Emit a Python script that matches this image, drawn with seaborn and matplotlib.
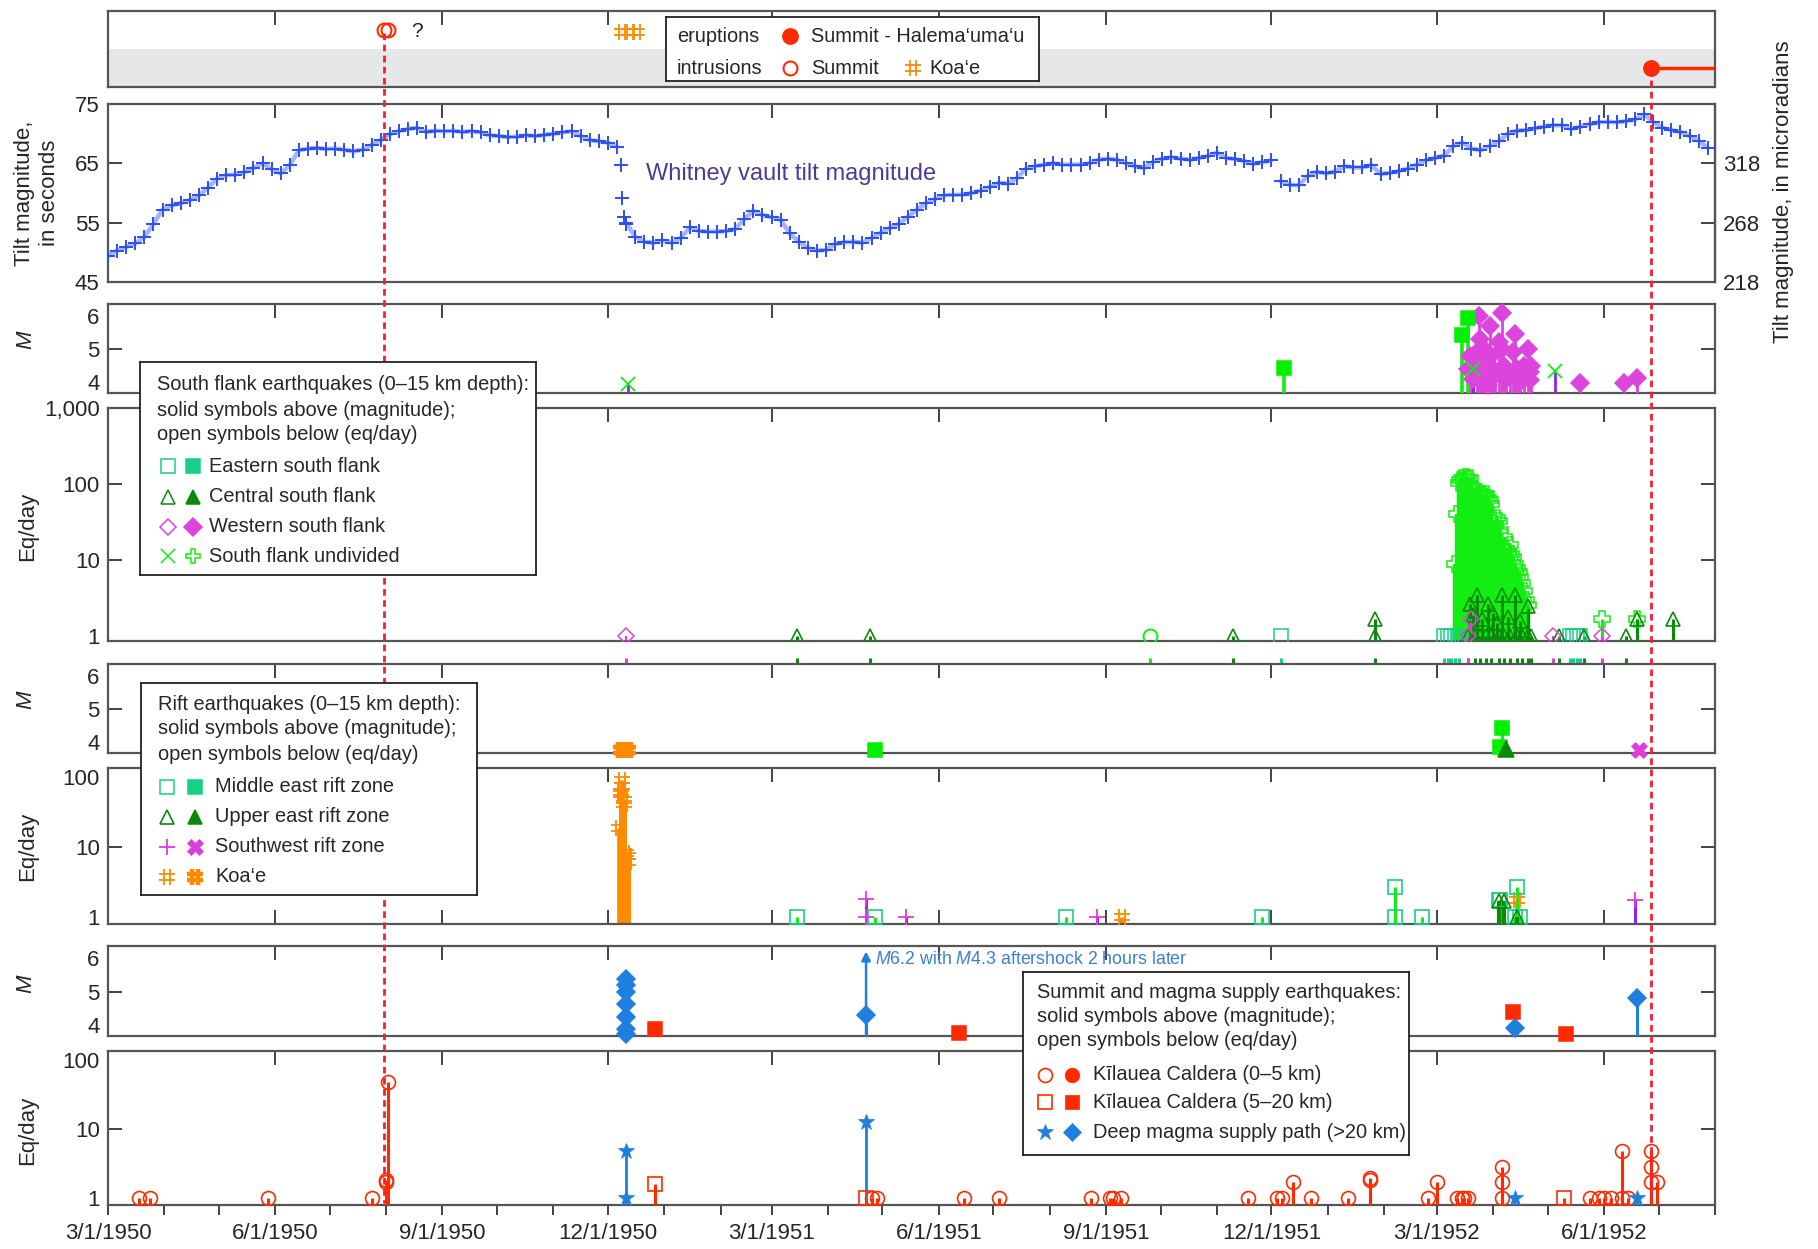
import numpy as np
import pandas as pd
import matplotlib
matplotlib.use("Agg")
import matplotlib.pyplot as plt
import matplotlib.dates as mdates
from matplotlib.path import Path
from matplotlib.lines import Line2D
from matplotlib.transforms import blended_transform_factory
import seaborn as sns

sns.set_theme(style="white")
plt.rcParams["font.family"] = ["Liberation Sans", "DejaVu Sans"]
plt.rcParams["mathtext.fontset"] = "custom"
plt.rcParams["mathtext.rm"] = "Liberation Sans"
plt.rcParams["mathtext.it"] = "Liberation Sans:italic"

# ---------------------------------------------------------------- data
x_start, x_end = "1950-03-01", "1952-08-01"
quarter_ticks = pd.date_range("1950-03-01", "1952-06-01", freq="3MS")
month_ticks = pd.date_range("1950-03-01", "1952-08-01", freq="MS")
quarter_labels = [f"{d.month}/{d.day}/{d.year}" for d in quarter_ticks]

eruption_date = "1952-06-27"
summit_intrusions = ["1950-07-31", "1950-08-02"]
koae_intrusions = ["1950-12-09", "1950-12-13", "1950-12-17"]
intrusion_line_date = "1950-07-31"

# Whitney vault tilt magnitude (seconds of arc), one reading every 5 days
tilt_start = "1950-03-01"
tilt_seconds = [
    49.4, 50.3, 50.9, 51.5, 52.6, 54.8, 57.2, 57.9, 58.3, 58.8,
    59.6, 60.9, 62.4, 63.0, 63.1, 63.5, 64.2, 65.0, 64.0, 63.3,
    64.7, 67.2, 67.5, 67.6, 67.4, 67.5, 67.3, 67.0, 67.3, 68.1,
    68.9, 69.9, 70.4, 70.8, 71.0, 70.3, 70.5, 70.4, 70.5, 70.3,
    70.4, 70.2, 69.7, 69.6, 69.4, 69.5, 69.7, 69.6, 69.8, 70.0,
    70.2, 70.4, 69.6, 68.9, 68.7, 68.5, 67.8, 55.0, 52.6, 51.8,
    51.6, 52.0, 51.6, 52.4, 54.2, 53.6, 53.5, 53.5, 53.6, 53.9,
    55.6, 57.0, 56.3, 55.9, 55.5, 53.2, 51.8, 50.7, 50.3, 50.4,
    51.4, 51.7, 51.8, 51.6, 52.4, 53.3, 54.1, 54.8, 56.0, 57.2,
    58.3, 59.0, 59.6, 59.7, 59.7, 60.0, 60.4, 61.0, 61.7, 61.6,
    62.5, 64.1, 64.5, 64.8, 65.0, 64.8, 64.8, 64.8, 65.0, 65.6,
    65.8, 65.6, 65.0, 64.5, 64.2, 65.3, 65.8, 66.0, 65.8, 65.6,
    65.9, 66.2, 66.8, 65.9, 65.7, 65.4, 64.9, 65.2, 65.5, 62.0,
    61.4, 61.3, 62.9, 63.6, 63.3, 63.6, 64.5, 64.3, 64.3, 64.7,
    63.2, 63.4, 63.7, 64.1, 64.8, 65.5, 65.9, 66.3, 67.9, 68.5,
    67.5, 67.2, 67.9, 68.7, 70.0, 70.5, 70.6, 70.9, 71.2, 71.4,
    71.4, 70.8, 71.2, 71.6, 71.9, 72.0, 71.9, 72.1, 72.4, 73.3,
    72.0, 71.0, 70.6, 70.3, 69.6, 68.8, 67.6,
]
# readings taken during the rapid tilt drop of December 1950
tilt_drop = [("1950-12-08", 64.8), ("1950-12-09", 59.2), ("1950-12-10", 56.0), ("1950-12-11", 54.7)]

# South flank magnitudes
sf_east_M = [("1951-12-08", 4.43), ("1952-03-15", 5.43), ("1952-03-18", 5.93)]
sf_und_M = [("1950-12-12", 3.95), ("1952-03-21", 4.4), ("1952-05-05", 4.35)]
sf_west_M = [
    ("1952-03-18", 4.4), ("1952-03-19", 4.8), ("1952-03-20", 4.4), ("1952-03-21", 4.1),
    ("1952-03-23", 4.9), ("1952-03-24", 6.0), ("1952-03-25", 5.3), ("1952-03-26", 4.6),
    ("1952-03-27", 5.0), ("1952-03-28", 4.2), ("1952-03-29", 3.9), ("1952-03-30", 5.7),
    ("1952-03-31", 4.8), ("1952-04-01", 4.4), ("1952-04-02", 4.2), ("1952-04-04", 5.2),
    ("1952-04-06", 6.1), ("1952-04-06", 5.0), ("1952-04-07", 4.5), ("1952-04-08", 4.1),
    ("1952-04-10", 4.2), ("1952-04-12", 4.9), ("1952-04-13", 5.45), ("1952-04-14", 4.4),
    ("1952-04-16", 4.0), ("1952-04-18", 4.5), ("1952-04-20", 5.0), ("1952-04-21", 4.3),
    ("1952-04-21", 4.05), ("1952-04-22", 4.5), ("1952-05-19", 3.98), ("1952-06-12", 3.98),
    ("1952-06-19", 4.12),
]

# South flank earthquakes per day
sf_swarm_dates = pd.date_range("1952-03-11", "1952-04-20")
sf_swarm_eq = [9, 40, 102, 115, 120, 110, 125, 118, 120, 95,
               85, 83, 78, 80, 72, 75, 70, 74, 65, 62,
               55, 34, 30, 36, 33, 25, 15, 20, 14, 13,
               16, 12, 11, 9, 8, 7, 6, 5, 4, 3, 2.6]
sf_und_eq = [("1952-05-31", 1.7), ("1952-06-19", 1.7)]
sf_cent_eq = [
    ("1951-03-15", 1), ("1951-04-24", 1), ("1951-11-10", 1), ("1952-01-27", 1), ("1952-01-27", 1.7),
    ("1952-03-18", 1), ("1952-03-19", 2.7), ("1952-03-21", 1.9), ("1952-03-22", 1), ("1952-03-23", 3.5),
    ("1952-03-25", 1), ("1952-03-26", 1.7), ("1952-03-28", 1), ("1952-03-29", 2.7), ("1952-03-31", 1),
    ("1952-04-01", 2.0), ("1952-04-03", 1.5), ("1952-04-04", 1), ("1952-04-06", 3.5), ("1952-04-07", 1),
    ("1952-04-09", 1.8), ("1952-04-10", 1), ("1952-04-13", 3.5), ("1952-04-14", 1), ("1952-04-16", 1.6),
    ("1952-04-17", 1), ("1952-04-20", 2.5), ("1952-04-20", 1), ("1952-04-22", 1), ("1952-05-07", 1),
    ("1952-05-21", 1), ("1952-06-13", 1), ("1952-06-19", 1.7), ("1952-07-09", 1.7),
]
sf_east_eq = [("1951-12-06", 1), ("1952-03-05", 1), ("1952-03-07", 1), ("1952-03-09", 1),
              ("1952-03-11", 1), ("1952-03-13", 1), ("1952-05-13", 1), ("1952-05-15", 1),
              ("1952-05-17", 1), ("1952-05-19", 1)]
sf_west_eq = [("1950-12-11", 1), ("1952-03-18", 1), ("1952-03-20", 1.7), ("1952-05-04", 1),
              ("1952-05-31", 1)]
sf_circle_eq = [("1951-09-25", 1)]

# Rift magnitudes
rf_koae_M = [("1950-12-08", 3.75), ("1950-12-09", 3.75), ("1950-12-10", 3.75),
             ("1950-12-11", 3.75), ("1950-12-12", 3.75)]
rf_mer_M = [("1951-04-27", 3.75), ("1952-04-05", 3.84), ("1952-04-06", 4.42)]
rf_uer_M = [("1952-04-08", 3.8)]
rf_sw_M = [("1952-06-20", 3.75)]

# Rift earthquakes per day
rf_koae_eq = [("1950-12-07", 19), ("1950-12-08", 62), ("1950-12-08", 58), ("1950-12-09", 92),
              ("1950-12-09", 75), ("1950-12-10", 47), ("1950-12-10", 41), ("1950-12-11", 8.2),
              ("1950-12-12", 6.2), ("1950-12-12", 7.5), ("1951-09-10", 1), ("1952-04-14", 1.75)]
rf_mer_eq = [("1951-03-15", 1), ("1951-04-27", 1), ("1951-08-10", 1), ("1951-11-26", 1),
             ("1952-02-07", 1), ("1952-02-07", 2.7), ("1952-02-22", 1), ("1952-04-04", 1.75),
             ("1952-04-05", 1.75), ("1952-04-13", 1), ("1952-04-14", 2.7), ("1952-04-16", 1)]
rf_uer_eq = [("1952-04-04", 1.7), ("1952-04-07", 1.7), ("1952-04-14", 1)]
rf_sw_eq = [("1951-04-22", 1.8), ("1951-04-22", 1), ("1951-05-14", 1), ("1951-08-27", 1),
            ("1952-06-18", 1.75)]

# Summit and magma supply magnitudes
sm_deep_M = [("1950-12-11", 5.36), ("1950-12-11", 5.18), ("1950-12-11", 4.98), ("1950-12-11", 4.63),
             ("1950-12-11", 4.24), ("1950-12-11", 3.87), ("1950-12-11", 3.72), ("1951-04-22", 4.3),
             ("1952-04-13", 3.9), ("1952-06-19", 4.8)]
sm_cal_deep_M = [("1950-12-27", 3.89), ("1951-06-12", 3.77), ("1952-04-12", 4.4), ("1952-05-11", 3.72)]
big_quake = ("1951-04-22", 6.2, 4.3)

# Summit and magma supply earthquakes per day
sm_cal_eq = [
    ("1950-03-18", 1), ("1950-03-24", 1), ("1950-05-28", 1), ("1950-07-24", 1), ("1950-08-01", 1.7),
    ("1950-08-01", 1.8), ("1950-08-02", 48), ("1951-04-25", 1), ("1951-04-28", 1), ("1951-06-15", 1),
    ("1951-07-04", 1), ("1951-08-24", 1), ("1951-09-03", 1), ("1951-09-05", 1), ("1951-09-09", 1),
    ("1951-11-18", 1), ("1951-12-04", 1), ("1951-12-07", 1), ("1951-12-13", 1.7), ("1951-12-23", 1),
    ("1952-01-12", 1), ("1952-01-24", 1.8), ("1952-01-24", 1.9), ("1952-02-25", 1), ("1952-03-01", 1.7),
    ("1952-03-12", 1), ("1952-03-15", 1), ("1952-03-16", 1), ("1952-03-18", 1), ("1952-04-06", 1),
    ("1952-04-06", 1.7), ("1952-04-06", 2.8), ("1952-05-24", 1), ("1952-05-29", 1), ("1952-06-01", 1),
    ("1952-06-05", 1), ("1952-06-11", 4.8), ("1952-06-11", 1), ("1952-06-14", 1), ("1952-06-27", 4.7),
    ("1952-06-27", 2.8), ("1952-06-27", 1.7), ("1952-06-30", 1.7),
]
sm_cal_deep_eq = [("1950-12-27", 1.6), ("1951-04-22", 1), ("1952-05-10", 1)]
sm_deep_eq = [("1950-12-11", 4.8), ("1950-12-11", 1), ("1951-04-22", 12.5), ("1952-04-13", 1),
              ("1952-06-19", 1)]

# ---------------------------------------------------------------- style
C_EAST = "#16d184"
C_CENT = "#0a8a0a"
C_WEST = "#dd44dd"
C_LIME = "#12ee12"
C_SW = "#dd3ddd"
C_SWSTEM = "#8b22f0"
C_KOAE = "#ff8a00"
C_CAL = "#ff2a00"
C_DEEP = "#1f7fdf"
C_TILT = "#2d4ff2"
C_DASH = "#ee2233"
C_GRAY = "#e6e7e8"
C_SPINE = "#555555"
FS_TICK = 16
FS_LAB = 16
FS_LEG = 14.4

HASH = Path([(-0.33, -1), (-0.33, 1), (0.33, -1), (0.33, 1),
             (-1, -0.33), (1, -0.33), (-1, 0.33), (1, 0.33)],
            [Path.MOVETO, Path.LINETO] * 4)

W, H = 1818, 1249
fig = plt.figure(figsize=(W / 100, H / 100), dpi=100)


def rect(x0, y0, x1, y1):
    return [x0 / W, 1 - y1 / H, (x1 - x0) / W, (y1 - y0) / H]


X0, X1 = 108, 1715
rows = {"erupt": (11, 87), "tilt": (104, 282), "sfM": (304, 393), "sfN": (408, 641),
        "rfM": (664, 753), "rfN": (768, 924), "smM": (946, 1036), "smN": (1051, 1205)}
axes = {k: fig.add_axes(rect(X0, a, X1, b)) for k, (a, b) in rows.items()}
limits = {"erupt": (0, 2), "tilt": (45, 75), "sfM": (3.67, 6.36), "sfN": (0.87, 1000),
          "rfM": (3.67, 6.36), "rfN": (0.8, 135), "smM": (3.67, 6.36), "smN": (0.78, 134)}


def frame(ax, key, log=False):
    if log:
        ax.set_yscale("log")
    ax.set_xlim(pd.Timestamp(x_start), pd.Timestamp(x_end))
    ax.set_ylim(*limits[key])
    ax.set_facecolor("white")
    ax.grid(False)
    for sp in ax.spines.values():
        sp.set_visible(True)
        sp.set_color(C_SPINE)
        sp.set_linewidth(1.6)
    ax.set_xticks(quarter_ticks)
    ax.tick_params(axis="x", which="major", direction="in", length=10, width=1.2,
                   color="#222222", top=True, bottom=False, labelbottom=False, labeltop=False)


def yaxis_ticks(ax, marked, unmarked, fmt=lambda v: f"{v:g}"):
    ax.set_yticks(marked, [fmt(v) for v in marked])
    ax.set_yticks(unmarked, [fmt(v) for v in unmarked], minor=True)
    ax.tick_params(axis="y", which="major", direction="in", length=10, width=1.2,
                   color="#222222", left=True, right=True, labelsize=FS_TICK, pad=6)
    ax.tick_params(axis="y", which="minor", length=0, left=True, right=False,
                   labelsize=FS_TICK, pad=6)


def dts(pairs):
    return pd.to_datetime([p[0] for p in pairs])


def vals(pairs):
    return [p[1] for p in pairs]


def marks(ax, dates, values, marker, color, ms, filled=False, mew=1.1, clip=True, z=4):
    ax.plot(pd.to_datetime(dates), values, ls="none", marker=marker, ms=ms,
            mfc=color if filled else "none", mec=color, mew=mew, clip_on=clip, zorder=z)


def stems(ax, key, dates, values, color, lw=2.0, z=3):
    ax.vlines(pd.to_datetime(dates), limits[key][0], values, colors=color, lw=lw, zorder=z)


def below_ticks(ax, dates, color, y0=-0.072, y1=-0.095):
    ax.vlines(pd.to_datetime(dates), y1, y0, colors=color, lw=2.2,
              transform=ax.get_xaxis_transform(), clip_on=False)


for k, ax in axes.items():
    frame(ax, k, log=k in ("sfN", "rfN", "smN"))

# ---------------------------------------------------------------- eruptions / intrusions
ax = axes["erupt"]
ax.set_yticks([])
ax.axhspan(0, 1, color=C_GRAY, zorder=0, lw=0)
ax.hlines(0.5, pd.Timestamp(eruption_date), pd.Timestamp(x_end), color=C_CAL, lw=2.5, zorder=3)
marks(ax, [eruption_date], [0.5], "o", C_CAL, 11, filled=True, z=5)
marks(ax, summit_intrusions, [1.5] * len(summit_intrusions), "o", C_CAL, 10, mew=1.5)
marks(ax, koae_intrusions, [1.45] * len(koae_intrusions), HASH, C_KOAE, 11, mew=1.3)
ax.text(pd.Timestamp("1950-08-18"), 1.47, "?", fontsize=15, va="center", ha="center")

# ---------------------------------------------------------------- tilt
ax = axes["tilt"]
tilt_dates = pd.date_range(tilt_start, periods=len(tilt_seconds), freq="5D")
tilt = pd.DataFrame({"date": tilt_dates, "sec": tilt_seconds})
# light band behind the readings, broken where the tilt steps abruptly
tilt["run"] = (tilt["sec"].diff().abs() > 3).cumsum()
for _, seg in tilt.groupby("run"):
    sns.lineplot(data=seg, x="date", y="sec", ax=ax, color="#a3b4f8", lw=3.2, zorder=2)
sns.scatterplot(data=tilt, x="date", y="sec", ax=ax, marker="+", s=90, color=C_TILT,
                linewidth=1.4, zorder=3)
sns.scatterplot(x=dts(tilt_drop), y=vals(tilt_drop), ax=ax, marker="+", s=90, color=C_TILT,
                linewidth=1.4, zorder=3)
ax.set_xlabel("")
ax.set_ylabel("")
yaxis_ticks(ax, [55, 65], [45, 75])
ax.tick_params(axis="y", which="major", right=False)
rax = ax.secondary_yaxis("right", functions=(lambda s: 218 + 5 * (s - 45),
                                             lambda u: 45 + (u - 218) / 5))
rax.set_yticks([268, 318], ["268", "318"])
rax.set_yticks([218], ["218"], minor=True)
rax.tick_params(which="major", direction="in", length=10, width=1.2, color="#222222",
                labelsize=FS_TICK, pad=6)
rax.tick_params(which="minor", length=0, labelsize=FS_TICK, pad=6)
rax.spines["right"].set_color(C_SPINE)
rax.spines["right"].set_linewidth(1.6)
ax.text(pd.Timestamp("1950-12-22"), 63.2, "Whitney vault tilt magnitude", fontsize=17,
        color="#4f3b96", va="center", ha="left")

# ---------------------------------------------------------------- south flank magnitude
ax = axes["sfM"]
yaxis_ticks(ax, [5], [4, 6])
stems(ax, "sfM", dts(sf_west_M), vals(sf_west_M), C_WEST, lw=2.0)
stems(ax, "sfM", dts(sf_east_M), vals(sf_east_M), C_LIME, lw=2.6)
stems(ax, "sfM", dts(sf_und_M), vals(sf_und_M), C_SWSTEM, lw=2.0)
marks(ax, dts(sf_west_M), vals(sf_west_M), "D", C_WEST, 9, filled=True, clip=False)
marks(ax, dts(sf_east_M), vals(sf_east_M), "s", "#00f000", 10.5, filled=True, clip=False)
marks(ax, dts(sf_und_M), vals(sf_und_M), "x", C_LIME, 10, mew=1.3, clip=False)

# ---------------------------------------------------------------- south flank eq/day
ax = axes["sfN"]
yaxis_ticks(ax, [10, 100], [1, 1000], lambda v: f"{v:,.0f}")
stems(ax, "sfN", sf_swarm_dates, sf_swarm_eq, C_LIME, lw=3.2, z=2)
stems(ax, "sfN", dts(sf_und_eq), vals(sf_und_eq), C_LIME, lw=2.2, z=2)
stems(ax, "sfN", dts(sf_cent_eq), vals(sf_cent_eq), C_CENT, lw=2.2)
stems(ax, "sfN", dts(sf_west_eq), vals(sf_west_eq), C_WEST, lw=1.6)
marks(ax, sf_swarm_dates, sf_swarm_eq, "P", C_LIME, 11, mew=1.1)
marks(ax, dts(sf_und_eq), vals(sf_und_eq), "P", C_LIME, 11, mew=1.1)
marks(ax, dts(sf_east_eq), vals(sf_east_eq), "s", C_EAST, 10, mew=1.1)
marks(ax, dts(sf_cent_eq), vals(sf_cent_eq), "^", C_CENT, 10.5, mew=1.2)
marks(ax, dts(sf_west_eq), vals(sf_west_eq), "D", C_WEST, 8, mew=1.1)
marks(ax, dts(sf_circle_eq), vals(sf_circle_eq), "o", C_LIME, 10, mew=1.4)
for pairs, col in [(sf_east_eq, C_EAST), (sf_cent_eq, C_CENT), (sf_west_eq, C_WEST),
                   (sf_circle_eq, C_LIME)]:
    ones = [p[0] for p in pairs if p[1] == 1]
    below_ticks(ax, ones, col)

# ---------------------------------------------------------------- rift magnitude
ax = axes["rfM"]
yaxis_ticks(ax, [5], [4, 6])
stems(ax, "rfM", dts(rf_mer_M), vals(rf_mer_M), C_LIME, lw=2.2)
marks(ax, dts(rf_koae_M), vals(rf_koae_M), HASH, C_KOAE, 11, mew=3.2, clip=False)
marks(ax, dts(rf_mer_M), vals(rf_mer_M), "s", "#00f000", 10.5, filled=True, clip=False)
marks(ax, dts(rf_uer_M), vals(rf_uer_M), "^", C_CENT, 11, filled=True, clip=False)
marks(ax, dts(rf_sw_M), vals(rf_sw_M), "X", C_SW, 11, filled=True, mew=0.5, clip=False)

# ---------------------------------------------------------------- rift eq/day
ax = axes["rfN"]
yaxis_ticks(ax, [10], [1, 100])
stems(ax, "rfN", dts(rf_koae_eq), vals(rf_koae_eq), C_KOAE, lw=3.4, z=2)
stems(ax, "rfN", dts(rf_mer_eq), vals(rf_mer_eq), C_LIME, lw=2.2)
stems(ax, "rfN", dts(rf_uer_eq), vals(rf_uer_eq), C_CENT, lw=3)
stems(ax, "rfN", dts(rf_sw_eq), vals(rf_sw_eq), C_SWSTEM, lw=2.2)
marks(ax, dts(rf_koae_eq), vals(rf_koae_eq), HASH, C_KOAE, 11, mew=1.3)
marks(ax, dts(rf_mer_eq), vals(rf_mer_eq), "s", C_EAST, 10, mew=1.2)
marks(ax, dts(rf_uer_eq), vals(rf_uer_eq), "^", C_CENT, 10.5, mew=1.2)
marks(ax, dts(rf_sw_eq), vals(rf_sw_eq), "+", C_SW, 12, mew=1.3)
ax.tick_params(axis="x", which="major", bottom=True)

# ---------------------------------------------------------------- summit magnitude
ax = axes["smM"]
yaxis_ticks(ax, [5], [4, 6])
stems(ax, "smM", dts(sm_deep_M), vals(sm_deep_M), C_DEEP, lw=2.2)
marks(ax, dts(sm_deep_M), vals(sm_deep_M), "D", C_DEEP, 9, filled=True, clip=False)
marks(ax, dts(sm_cal_deep_M), vals(sm_cal_deep_M), "s", C_CAL, 10.5, filled=True, clip=False)
bq = mdates.date2num(pd.Timestamp(big_quake[0]))
ax.annotate("", xy=(bq, big_quake[1]), xytext=(bq, limits["smM"][0]),
            arrowprops=dict(arrowstyle="-|>", color=C_DEEP, lw=1.8, mutation_scale=13,
                            shrinkA=0, shrinkB=0))
ax.text(pd.Timestamp("1951-04-27"), 5.96,
        r"$\mathit{M}$6.2 with $\mathit{M}$4.3 aftershock 2 hours later",
        fontsize=12.8, color="#3a7fd0", va="center", ha="left")

# ---------------------------------------------------------------- summit eq/day
ax = axes["smN"]
yaxis_ticks(ax, [10], [1, 100])
stems(ax, "smN", dts(sm_cal_eq), vals(sm_cal_eq), C_CAL, lw=2.2)
stems(ax, "smN", dts(sm_cal_deep_eq), vals(sm_cal_deep_eq), C_CAL, lw=2.2)
stems(ax, "smN", dts(sm_deep_eq), vals(sm_deep_eq), C_DEEP, lw=2.0)
marks(ax, dts(sm_cal_eq), vals(sm_cal_eq), "o", C_CAL, 10, mew=1.2)
marks(ax, dts(sm_cal_deep_eq), vals(sm_cal_deep_eq), "s", C_CAL, 10.5, mew=1.2)
marks(ax, dts(sm_deep_eq), vals(sm_deep_eq), "*", C_DEEP, 12, filled=True, mew=0.5)
ax.set_xticks(quarter_ticks, quarter_labels)
ax.set_xticks(month_ticks, minor=True)
ax.tick_params(axis="x", which="both", direction="out", length=7, width=1.2, color="#222222",
               top=False, bottom=True, labelbottom=True, labelsize=FS_TICK, pad=6)
ax.vlines(quarter_ticks, 0.91, 1.0, colors="#222222", lw=1.2, transform=ax.get_xaxis_transform())

for k, ax in axes.items():
    ax.set_xlim(pd.Timestamp(x_start), pd.Timestamp(x_end))
    ax.set_ylim(*limits[k])

# ---------------------------------------------------------------- axis titles
fig.text(37 / W, 1 - 193 / H, "Tilt magnitude,\nin seconds", rotation=90, ha="center",
         va="center", fontsize=FS_LAB, linespacing=1.2)
for yc in (340, 700, 984):
    fig.text(26 / W, 1 - yc / H, "M", rotation=90, ha="center", va="center",
             fontsize=FS_LAB, fontstyle="italic")
for yc in (526, 846, 1130):
    fig.text(28 / W, 1 - yc / H, "Eq/day", rotation=90, ha="center", va="center",
             fontsize=FS_LAB)
fig.text(1784 / W, 1 - 192 / H, "Tilt magnitude, in microradians", rotation=90,
         ha="center", va="center", fontsize=FS_LAB)

# ---------------------------------------------------------------- dashed event lines
bt = blended_transform_factory(axes["smN"].transData, fig.transFigure)
for d, ytop in [(intrusion_line_date, 33), (eruption_date, 69)]:
    xn = mdates.date2num(pd.Timestamp(d))
    fig.add_artist(Line2D([xn, xn], [1 - ytop / H, 1 - 1203 / H], transform=bt,
                          color=C_DASH, lw=2, ls=(0, (2.4, 1.6)), zorder=5))


# ---------------------------------------------------------------- legend boxes
def legend_panel(x0, y0, x1, y1):
    lax = fig.add_axes(rect(x0, y0, x1, y1), zorder=10)
    lax.set_xlim(x0, x1)
    lax.set_ylim(y1, y0)
    lax.set_xticks([])
    lax.set_yticks([])
    lax.set_facecolor("white")
    lax.grid(False)
    for sp in lax.spines.values():
        sp.set_visible(True)
        sp.set_color("#222222")
        sp.set_linewidth(1.3)
    return lax


def sym(lax, x, y, marker, color, filled, ms=9.5, mew=1.1):
    lax.plot([x], [y], ls="none", marker=marker, ms=ms, mfc=color if filled else "none",
             mec=color, mew=mew, clip_on=False)


def txt(lax, x, y, s, **kw):
    lax.text(x, y, s, fontsize=FS_LEG, va="center", ha="left", **kw)


# eruptions / intrusions
lax = legend_panel(666, 17, 1039, 81)
txt(lax, 677, 36, "eruptions")
sym(lax, 790, 36, "o", C_CAL, True, ms=11)
txt(lax, 811, 36, "Summit - Halema\u2018uma\u2018u")
txt(lax, 677, 68, "intrusions")
sym(lax, 790, 68, "o", C_CAL, False, ms=10, mew=1.5)
txt(lax, 811, 68, "Summit")
sym(lax, 913, 68, HASH, C_KOAE, False, ms=11, mew=1.3)
txt(lax, 929, 68, "Koa\u2018e")

# south flank
lax = legend_panel(140, 362, 536, 575)
for yy, s in [(384, "South flank earthquakes (0\u201315 km depth):"),
              (410, "solid symbols above (magnitude);"),
              (434, "open symbols below (eq/day)")]:
    txt(lax, 157, yy, s)
sf_rows = [(466, ("s", C_EAST, False), ("s", C_EAST, True), "Eastern south flank"),
           (497, ("^", C_CENT, False), ("^", C_CENT, True), "Central south flank"),
           (527, ("D", C_WEST, False), ("D", C_WEST, True), "Western south flank"),
           (556, ("x", C_LIME, False), ("P", C_LIME, False), "South flank undivided")]
for yy, a, b, s in sf_rows:
    sym(lax, 168, yy, a[0], a[1], a[2], ms=9.5 if a[0] != "D" else 8)
    sym(lax, 193, yy, b[0], b[1], b[2], ms=10.5 if b[0] != "D" else 9)
    txt(lax, 209, yy, s)

# rift
lax = legend_panel(141, 683, 477, 895)
for yy, s in [(704, "Rift earthquakes (0\u201315 km depth):"),
              (729, "solid symbols above (magnitude);"),
              (754, "open symbols below (eq/day)")]:
    txt(lax, 158, yy, s)
rf_rows = [(787, ("s", C_EAST, False, 1.1), ("s", C_EAST, True, 1.1), "Middle east rift zone"),
           (817, ("^", C_CENT, False, 1.2), ("^", C_CENT, True, 1.1), "Upper east rift zone"),
           (847, ("+", C_SW, False, 1.3), ("X", C_SW, True, 0.5), "Southwest rift zone"),
           (877, (HASH, C_KOAE, False, 1.3), (HASH, C_KOAE, False, 3.2), "Koa\u2018e")]
for yy, a, b, s in rf_rows:
    sym(lax, 167, yy, a[0], a[1], a[2], ms=11 if a[0] in ("+",) or a[0] is HASH else 9.5, mew=a[3])
    sym(lax, 195, yy, b[0], b[1], b[2], ms=11 if b[0] in ("X",) or b[0] is HASH else 10.5, mew=b[3])
    txt(lax, 215, yy, s)

# summit
lax = legend_panel(1023, 972, 1409, 1155)
for yy, s in [(993, "Summit and magma supply earthquakes:"),
              (1017, "solid symbols above (magnitude);"),
              (1041, "open symbols below (eq/day)")]:
    txt(lax, 1037, yy, s)
sm_rows = [(1075, ("o", C_CAL, False), ("o", C_CAL, True), "K\u012blauea Caldera (0\u20135 km)"),
           (1102, ("s", C_CAL, False), ("s", C_CAL, True), "K\u012blauea Caldera (5\u201320 km)"),
           (1132, ("*", C_DEEP, True), ("D", C_DEEP, True), "Deep magma supply path (>20 km)")]
for yy, a, b, s in sm_rows:
    sym(lax, 1045, yy, a[0], a[1], a[2], ms=12 if a[0] == "*" else 10, mew=1.2 if not a[2] else 0.5)
    sym(lax, 1072, yy, b[0], b[1], b[2], ms=9 if b[0] == "D" else 10.5, mew=0.5)
    txt(lax, 1093, yy, s)

fig.savefig("out.png", dpi=100)
